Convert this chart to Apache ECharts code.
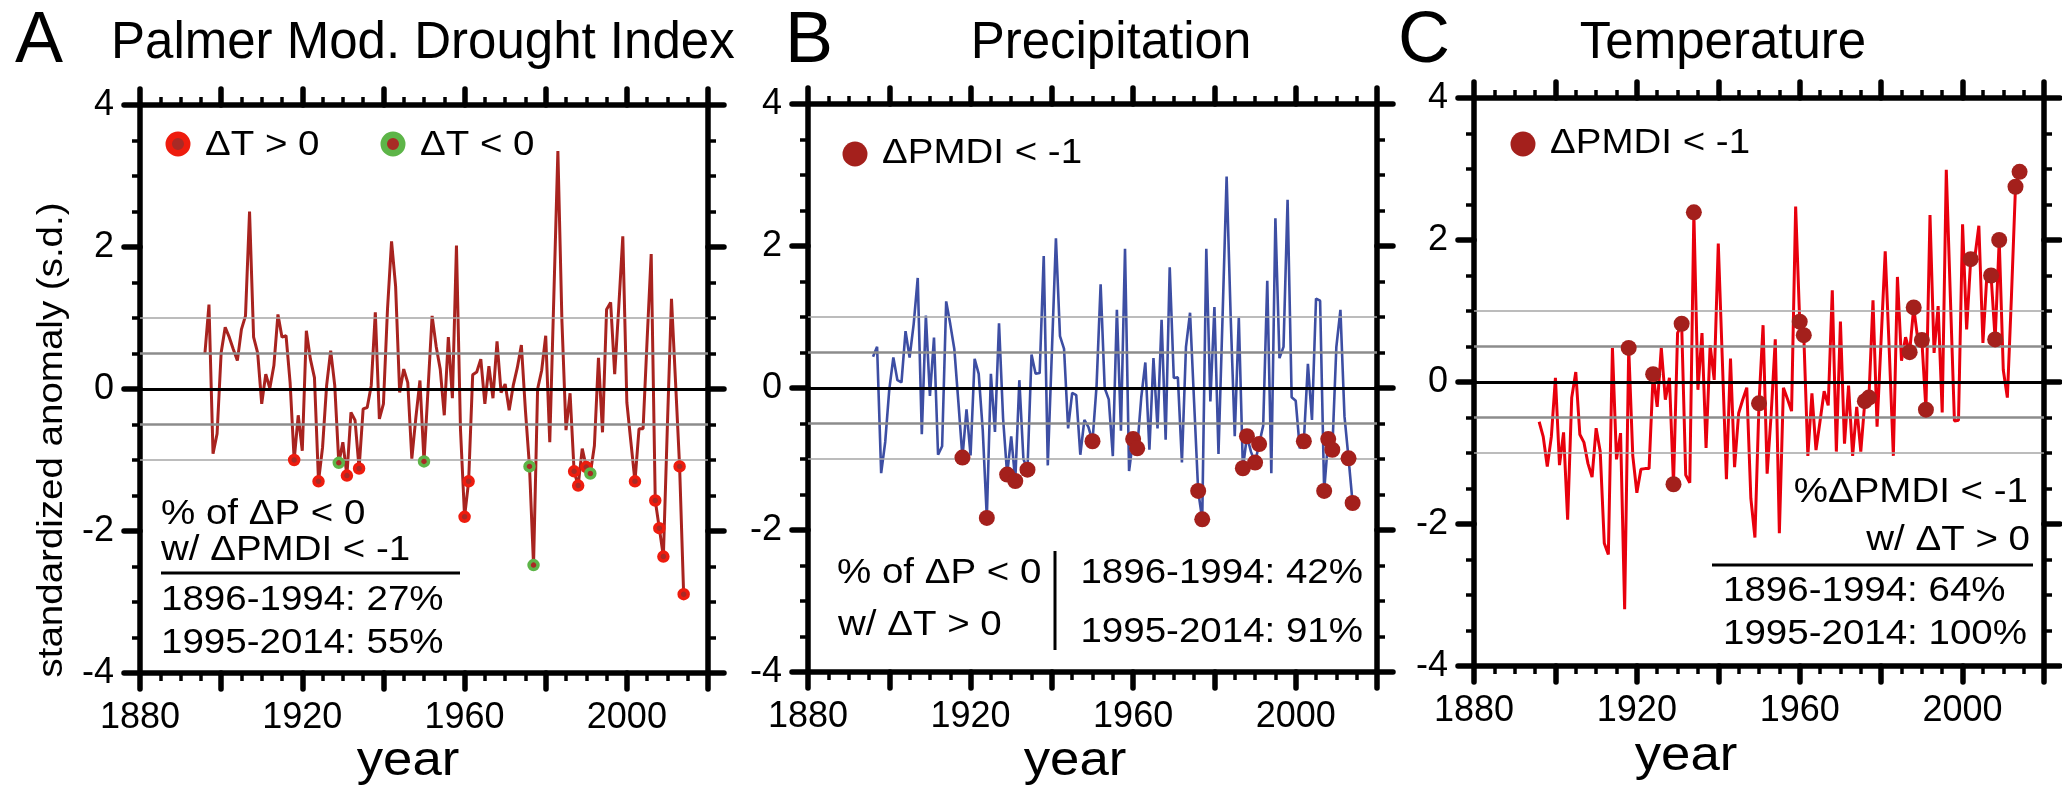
<!DOCTYPE html>
<html><head><meta charset="utf-8">
<script src="https://cdn.jsdelivr.net/npm/echarts@6/dist/echarts.min.js"></script>
<style>html,body{margin:0;padding:0;background:#fff}#c{width:2062px;height:792px}</style>
</head><body><div id="c"></div>
<script>
// ---------------- data ----------------
const startYear = 1896;
const pmdi = [
 0.50, 1.19,-0.91,-0.63, 0.51, 0.87, 0.73, 0.56, 0.40, 0.84,
 1.03, 2.50, 0.73, 0.51,-0.21, 0.21, 0.01, 0.33, 1.05, 0.73,
 0.75, 0.09,-1.00,-0.37,-0.87, 0.82, 0.42, 0.16,-1.30,-0.82,
 0.05, 0.54, 0.05,-1.04,-0.75,-1.22,-0.33,-0.44,-1.12,-0.28,
-0.26, 0.05, 1.08,-0.42,-0.21, 1.12, 2.08, 1.45,-0.05, 0.28,
 0.09,-0.98,-0.40, 0.12,-1.02, 0.00, 1.03, 0.60, 0.28,-0.37,
 0.73,-0.13, 2.02,-0.58,-1.80,-1.30, 0.20, 0.24, 0.42,-0.21,
 0.32,-0.13, 0.67,-0.05, 0.07,-0.30, 0.05, 0.30, 0.62,-0.30,
-1.09,-2.48, 0.00, 0.26, 0.75,-0.75, 1.30, 3.35, 0.95,-0.58,
-0.06,-1.16,-1.36,-0.84,-1.10,-1.19,-0.80, 0.44,-0.61, 1.12,
 1.22, 0.21, 1.15, 2.15,-0.19,-0.75,-1.30,-0.56,-0.56, 0.70,
 1.90,-1.57,-1.96,-2.36,-0.50, 1.27, 0.10,-1.09,-2.89
];
const precip = [
 0.44, 0.58,-1.20,-0.76,-0.02, 0.43, 0.11, 0.08, 0.80, 0.43,
 0.90, 1.55,-0.65, 1.02,-0.11, 0.71,-0.94,-0.82, 1.22, 0.90,
 0.55,-0.20,-0.98,-0.30,-0.95, 0.41, 0.20,-0.60,-1.83, 0.20,
-0.62, 0.91,-0.43,-1.22,-0.68,-1.31, 0.11,-1.00,-1.15, 0.47,
 0.20, 0.21, 1.86,-1.09, 0.50, 2.11, 0.73, 0.55,-0.57,-0.07,
-0.10,-0.94,-0.45,-0.55,-0.75, 0.03, 1.46, 0.00,-0.16,-0.96,
 1.10,-0.60, 1.96,-1.17,-0.72,-0.85,-0.13, 0.36,-0.87, 0.42,
-0.57, 0.96,-0.73, 1.70, 0.14, 0.15,-1.05, 0.58, 1.06,-0.20,
-1.45,-1.85, 1.96,-0.19, 1.14,-0.93, 1.00, 2.98, 1.00,-0.68,
 0.99,-1.13,-0.68,-0.90,-1.05,-0.79,-0.53, 1.51,-1.20, 2.39,
 0.42, 0.58, 2.65,-0.13,-0.18,-0.85,-0.75, 0.34,-0.45, 1.26,
 1.23,-1.45,-0.72,-0.87, 0.58, 1.10,-0.40,-0.99,-1.62
];
const temp = [
-0.56,-0.77,-1.19,-0.77, 0.06,-1.17,-0.71,-1.94,-0.22, 0.14,
-0.74,-0.85,-1.15,-1.34,-0.65,-0.98,-2.27,-2.43, 0.48,-1.09,
-0.72,-3.20, 0.48,-1.04,-1.56,-1.23,-1.22,-1.22, 0.11,-0.35,
 0.48,-0.25, 0.06,-1.44, 0.69, 0.82,-1.31,-1.42, 2.39,-0.11,
 0.69,-0.93, 0.52, 0.03, 1.95, 0.30,-1.37, 0.33,-1.20,-0.44,
-0.25,-0.08,-1.64,-2.19,-0.30, 0.80,-1.29,-0.44, 0.60,-2.13,
-0.08,-0.24,-0.41, 2.47, 0.85, 0.66,-1.04,-0.16,-0.96,-0.55,
-0.13,-0.33, 1.29,-0.98, 0.85,-0.87,-0.05,-1.04,-0.35,-0.98,
-0.27,-0.22, 1.15,-0.63, 0.60, 1.84, 0.44,-1.04, 1.48, 0.30,
 0.63, 0.42, 1.05, 0.60, 0.59,-0.39, 2.35, 0.41, 1.07,-0.43,
 2.99, 1.20,-0.55,-0.54, 2.22, 0.74, 1.73, 1.75, 2.20, 0.55,
 1.53, 1.50, 0.60, 2.00, 0.17,-0.22, 1.20, 2.75, 2.96
];
// drought years (dPMDI < -1), split by sign of dT
const warmYears = [1918,1924,1931,1934,1960,1961,1987,1988,1990,2002,2007,2008,2009,2013,2014];
const coolYears = [1929,1950,1976,1977,1991];
const droughtYears = warmYears.concat(coolYears).sort((a,b)=>a-b);
const xLabelYears = [1880,1920,1960,2000];
const refLines = {light:[1,-1], mid:[0.5,-0.5], zero:[0]};

// ---------------- chart ----------------
const FONT = '"Liberation Sans", Arial, Helvetica, sans-serif';
const chart = echarts.init(document.getElementById('c'), null, {renderer:'canvas', width:2062, height:792});
const grids = [
  {left:140, top:105, width:568, height:568},
  {left:808, top:104, width:569, height:568},
  {left:1474, top:98, width:570, height:568}
];
const AXW = 5.5;
function xAxes(gi){
  const base = {type:'value', gridIndex:gi, min:1880, max:2020, interval:20,
    axisLine:{show:true, onZero:false, lineStyle:{color:'#000', width:AXW, cap:'round'}},
    axisTick:{show:true, inside:false, length:16, lineStyle:{color:'#000', width:AXW, cap:'round'}},
    minorTick:{show:true, splitNumber:4, length:8, lineStyle:{color:'#000', width:3.5}},
    splitLine:{show:false}, minorSplitLine:{show:false}};
  return [
    Object.assign({}, base, {position:'bottom', axisLabel:{show:true, margin:27, fontSize:36, color:'#000', fontFamily:FONT,
       formatter: v => xLabelYears.includes(v) ? String(v) : ''}}),
    Object.assign({}, base, {position:'top', axisLabel:{show:false}})
  ];
}
function yAxes(gi){
  const base = {type:'value', gridIndex:gi, min:-4, max:4, interval:2,
    axisLine:{show:true, onZero:false, lineStyle:{color:'#000', width:AXW, cap:'round'}},
    axisTick:{show:true, inside:false, length:16, lineStyle:{color:'#000', width:AXW, cap:'round'}},
    minorTick:{show:true, splitNumber:4, length:8, lineStyle:{color:'#000', width:3.5}},
    splitLine:{show:false}, minorSplitLine:{show:false}};
  return [
    Object.assign({}, base, {position:'left', axisLabel:{show:true, margin:26, fontSize:36, color:'#000', fontFamily:FONT}}),
    Object.assign({}, base, {position:'right', axisLabel:{show:false}})
  ];
}
function pts(vals){ return vals.map((v,i)=>[startYear+i, v]); }
function pick(vals, yrs){ return yrs.map(y=>[y, vals[y-startYear]]); }
function refSeries(gi, vals){
  const d = [];
  refLines.light.forEach(v=>d.push({yAxis:v, lineStyle:{color:'#a6a6a6', width:1.6, type:'solid', opacity:1}}));
  refLines.mid.forEach(v=>d.push({yAxis:v, lineStyle:{color:'#8c8c8c', width:2.6, type:'solid', opacity:1}}));
  refLines.zero.forEach(v=>d.push({yAxis:v, lineStyle:{color:'#000', width:3, type:'solid', opacity:1}}));
  return {type:'line', xAxisIndex:gi*2, yAxisIndex:gi*2, data:pts(vals), showSymbol:false, silent:true, z:1,
    lineStyle:{opacity:0},
    markLine:{silent:true, symbol:['none','none'], label:{show:false}, emphasis:{disabled:true}, data:d}};
}
function mainLine(gi, vals, color, w){
  return {type:'line', xAxisIndex:gi*2, yAxisIndex:gi*2, data:pts(vals), showSymbol:false, z:3,
    lineStyle:{color:color, width:w}, emphasis:{disabled:true}};
}
const DARK = '#a4201c';
const series = [
  refSeries(0, pmdi), mainLine(0, pmdi, '#a8231f', 3),
  {type:'scatter', xAxisIndex:0, yAxisIndex:0, data:pick(pmdi, warmYears), symbolSize:9, z:5,
    itemStyle:{color:'#a82a25', borderColor:'#ee1c0e', borderWidth:3.5, opacity:1}},
  {type:'scatter', xAxisIndex:0, yAxisIndex:0, data:pick(pmdi, coolYears), symbolSize:9, z:6,
    itemStyle:{color:'#a82a25', borderColor:'#5db548', borderWidth:3.5, opacity:1}},
  refSeries(1, precip), mainLine(1, precip, '#3d4ea3', 2.6),
  {type:'scatter', xAxisIndex:2, yAxisIndex:2, data:pick(precip, droughtYears), symbolSize:16, z:5,
    itemStyle:{color:DARK, opacity:1}},
  refSeries(2, temp), mainLine(2, temp, '#e8000d', 3),
  {type:'scatter', xAxisIndex:4, yAxisIndex:4, data:pick(temp, droughtYears), symbolSize:16, z:5,
    itemStyle:{color:DARK, opacity:1}}
];

function T(x, y, text, size, align, opts){
  opts = opts || {};
  return {type:'text', x:x, y:y, z:100, scaleX: opts.sx || 1.1, rotation: opts.rot || 0,
    style:{text:text, font:'normal '+size+'px '+FONT, fill:'#000',
      align:align, textAlign:align, verticalAlign:'middle', textVerticalAlign:'middle'}};
}
function L(x1,y1,x2,y2,w){ return {type:'line', z:100, shape:{x1,y1,x2,y2}, style:{stroke:'#000', lineWidth:w}}; }
function C(cx,cy,r,fill,stroke,lw){ return {type:'circle', z:100, shape:{cx,cy,r}, style:{fill, stroke:stroke||null, lineWidth:lw||0}}; }

const graphics = [
  // panel letters and titles
  T(15, 42, 'A', 72, 'left', {sx:1}),
  T(111, 44, 'Palmer Mod. Drought Index', 51, 'left', {sx:1}),
  T(785, 42, 'B', 72, 'left', {sx:1}),
  T(1111, 44, 'Precipitation', 51, 'center', {sx:1}),
  T(1398, 42, 'C', 72, 'left', {sx:1}),
  T(1723, 44, 'Temperature', 51, 'center', {sx:1}),
  // y axis name
  T(52, 440, 'standardized anomaly (s.d.)', 35, 'center', {rot:Math.PI/2}),
  // x axis names
  T(408, 762, 'year', 48, 'center'),
  T(1075, 762, 'year', 48, 'center'),
  T(1686, 757, 'year', 48, 'center'),
  // legend A
  C(178, 144, 9.25, '#a82a25', '#ee1c0e', 6.5),
  T(205, 145, 'ΔT > 0', 35, 'left'),
  C(393, 144, 9.25, '#a82a25', '#5db548', 6.5),
  T(420, 145, 'ΔT < 0', 35, 'left'),
  // legend B, C
  C(855, 154, 12.5, DARK),
  T(882, 153, 'ΔPMDI < -1', 35, 'left'),
  C(1523, 144, 12.5, DARK),
  T(1550, 143, 'ΔPMDI < -1', 35, 'left'),
  // text box A
  T(161, 514, '% of ΔP < 0', 35, 'left'),
  T(161, 550, 'w/ ΔPMDI < -1', 35, 'left'),
  L(161, 573, 460, 573, 3),
  T(161, 600, '1896-1994: 27%', 35, 'left'),
  T(161, 643, '1995-2014: 55%', 35, 'left'),
  // text box B
  T(837, 573, '% of ΔP < 0', 35, 'left'),
  T(838, 625, 'w/ ΔT > 0', 35, 'left'),
  L(1055, 551, 1055, 650, 3),
  T(1363, 573, '1896-1994: 42%', 35, 'right'),
  T(1363, 632, '1995-2014: 91%', 35, 'right'),
  // text box C
  T(2028, 492, '%ΔPMDI < -1', 35, 'right'),
  T(2030, 540, 'w/ ΔT > 0', 35, 'right'),
  L(1712, 565, 2033, 565, 3),
  T(1723, 591, '1896-1994: 64%', 35, 'left'),
  T(1723, 634, '1995-2014: 100%', 35, 'left')
];

chart.setOption({
  animation:false,
  backgroundColor:'#fff',
  grid: grids,
  xAxis: [].concat(xAxes(0), xAxes(1), xAxes(2)),
  yAxis: [].concat(yAxes(0), yAxes(1), yAxes(2)),
  series: series,
  graphic: graphics
});
</script>
</body></html>
